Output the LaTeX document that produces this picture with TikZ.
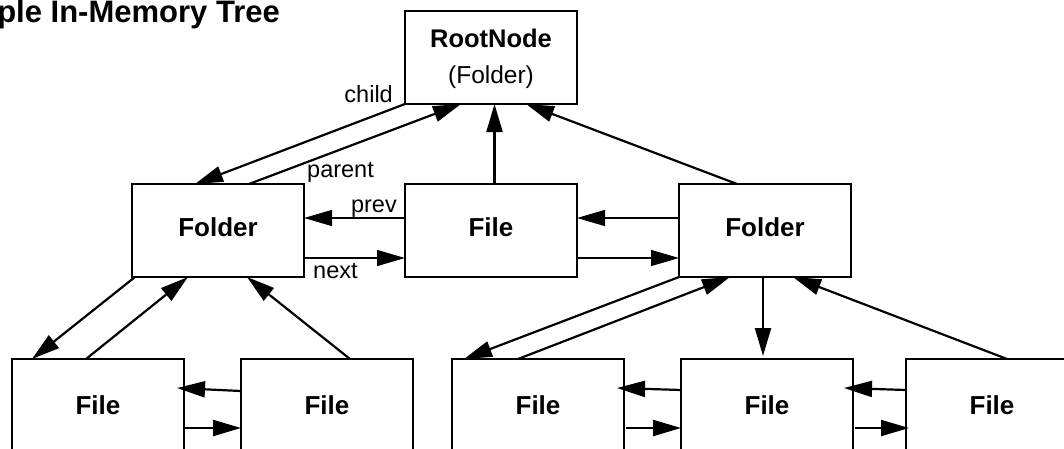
\documentclass[tikz,border=0pt]{standalone}
\usepackage{fontspec}
\setmainfont{Liberation Sans}
\usetikzlibrary{arrows.meta,calc}
\begin{document}
\begin{tikzpicture}[x=1pt,y=-1pt,
  box/.style={draw, line width=1.3pt, fill=white, minimum width=172pt, minimum height=93pt,
    inner sep=0pt, outer sep=0pt, anchor=north west, font=\fontsize{26}{31}\selectfont\bfseries},
  midbox/.style={box, text depth=6pt},
  arr/.style={line width=2.2pt, -{Triangle[length=28pt,width=16pt]}},
  thinarr/.style={line width=1.3pt, -{Triangle[length=28pt,width=16pt]}},
  lbl/.style={font=\fontsize{23.5}{28}\selectfont, inner sep=0pt}
]
\useasboundingbox (0,0) rectangle (1064,448);

\node[font=\fontsize{31}{36}\selectfont\bfseries, anchor=base east, inner sep=0pt] (title) at (280,22.5) {ple In-Memory Tree};

\node[box] (root) at (405,11) {};
\node[font=\fontsize{25.5}{30}\selectfont\bfseries, anchor=base, inner sep=0pt] (rootname) at ($(root.north)+(0,36.7)$) {RootNode};
\node[font=\fontsize{24.5}{30}\selectfont, anchor=base, inner sep=0pt] (roottype) at ($(root.north)+(0,72.3)$) {(Folder)};
\node[midbox] (fL) at (132,184) {Folder};
\node[midbox] (fM) at (405,184) {File};
\node[midbox] (fR) at (679,184) {Folder};
\node[box] (b1) at (12,359) {File};
\node[box] (b2) at (241,359) {File};
\node[box] (b3) at (452,359) {File};
\node[box] (b4) at (681,359) {File};
\node[box] (b5) at (906,359) {File};

% root level
\draw[arr] (root.south west) -- ($(fL.north west)+(63,0)$);
\draw[arr] ($(fL.north west)+(117,0)$) -- ($(root.south west)+(56,0)$);
\draw[arr] ($(fM.north west)+(89.5,0)$) -- ($(root.south west)+(89.5,0)$);
\draw[arr] ($(fR.north west)+(58,0)$) -- ($(root.south west)+(121,0)$);
% middle row siblings
\draw[thinarr] ($(fM.north west)+(0,34)$) -- ($(fL.north east)+(0,34)$);
\draw[thinarr] ($(fL.north east)+(0,74)$) -- ($(fM.north west)+(0,74)$);
\draw[thinarr] ($(fR.north west)+(0,34)$) -- ($(fM.north east)+(0,34)$);
\draw[thinarr] ($(fM.north east)+(0,74)$) -- ($(fR.north west)+(0,74)$);
% left subtree
\draw[arr] ($(fL.south west)+(3,0)$) -- ($(b1.north west)+(20,0)$);
\draw[arr] ($(b1.north west)+(74,0)$) -- ($(fL.south west)+(56,0)$);
\draw[arr] ($(b2.north west)+(109,0)$) -- ($(fL.south west)+(115,0)$);
\draw[arr] ($(b2.north west)+(0,32)$) -- ($(b1.north east)+(-7,29)$);
\draw[arr] ($(b1.north east)+(0,69)$) -- ($(b2.north west)+(0,69)$);
% right subtree
\draw[arr] (fR.south west) -- ($(b3.north west)+(12,0)$);
\draw[arr] ($(b3.north west)+(66,0)$) -- ($(fR.south west)+(51,0)$);
\draw[arr] ($(fR.south west)+(84,0)$) -- ($(b4.north west)+(82,-3)$);
\draw[arr] ($(b5.north west)+(101,0)$) -- ($(fR.south west)+(114,0)$);
\draw[arr] ($(b4.north west)+(0,31)$) -- ($(b3.north east)+(-7,29)$);
\draw[arr] ($(b3.north east)+(2,69)$) -- ($(b4.north west)+(0,69)$);
\draw[arr] ($(b5.north west)+(0,31)$) -- ($(b4.north east)+(-9,29)$);
\draw[arr] ($(b4.north east)+(2,69)$) -- ($(b5.north west)+(3,69)$);

% labels
\node[lbl, anchor=base east] (lchild) at ($(root.south west)+(-12,-2)$) {child};
\node[lbl, anchor=base west] (lparent) at ($(fL.north east)+(3,-7)$) {parent};
\node[lbl, anchor=base east] (lprev) at ($(fM.north west)+(-8,28)$) {prev};
\node[lbl, anchor=base west] (lnext) at ($(fL.south east)+(9,1)$) {next};
\end{tikzpicture}
\end{document}
